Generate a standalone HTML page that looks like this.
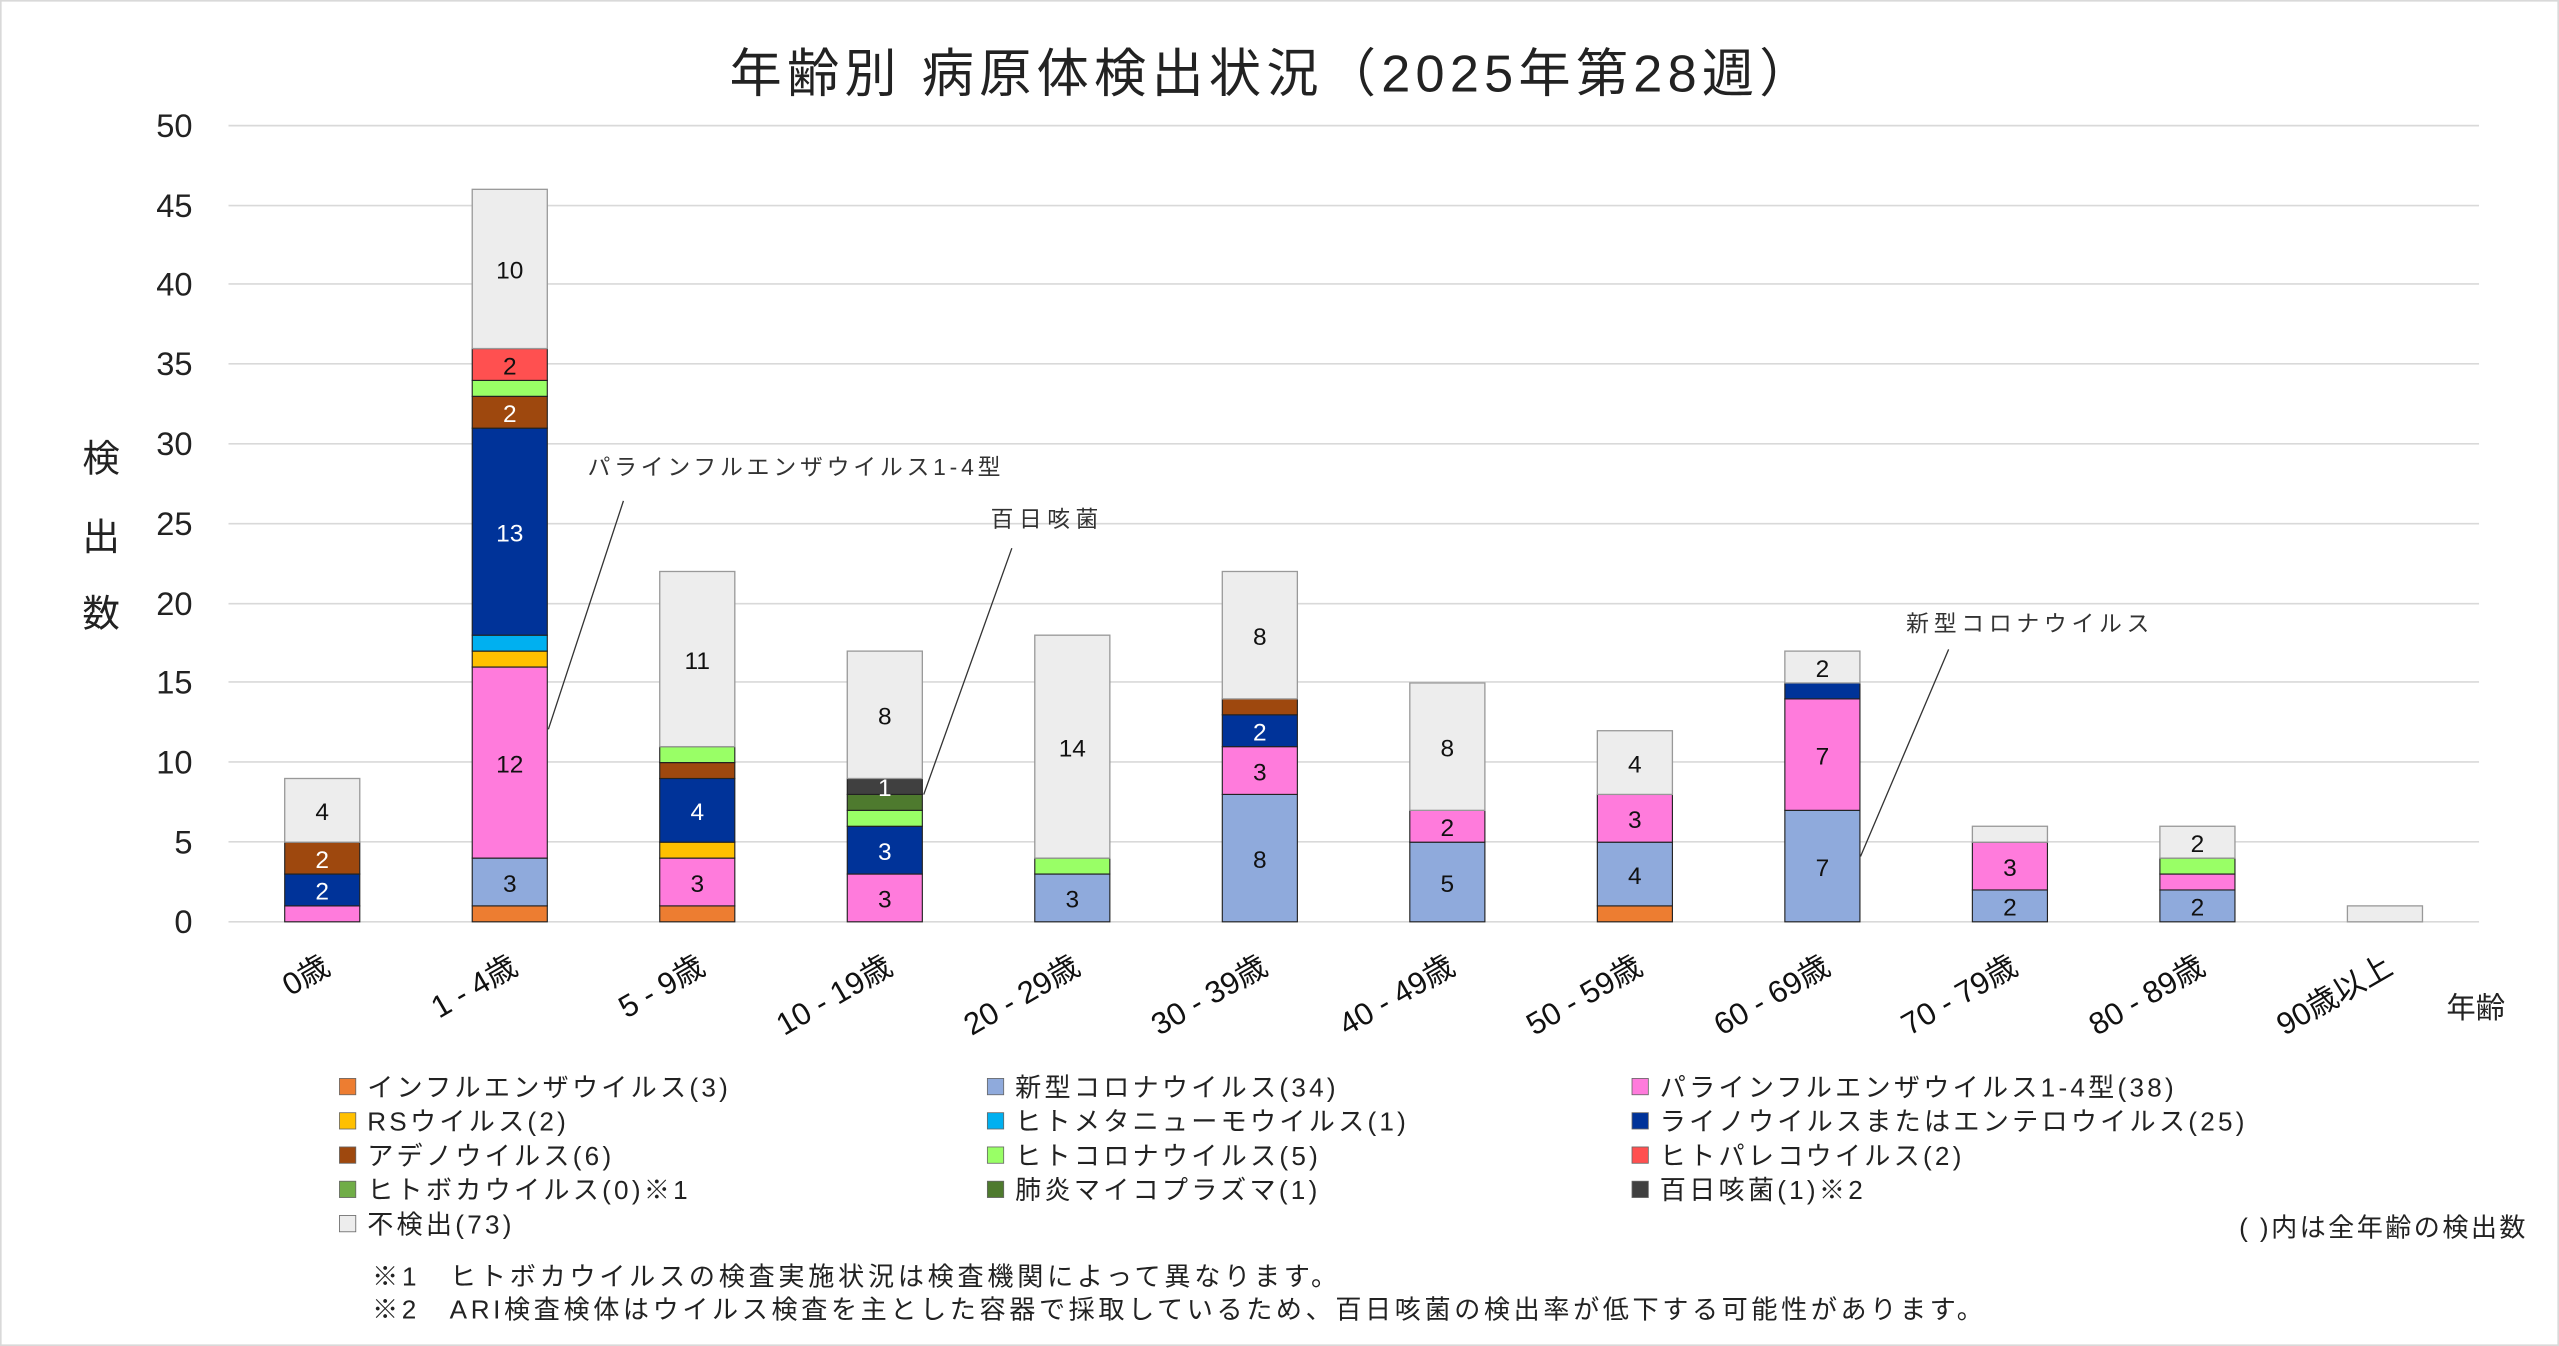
<!DOCTYPE html>
<html><head><meta charset="utf-8"><style>
html,body{margin:0;padding:0;background:#fff}
svg{display:block}
text{font-family:"Liberation Sans","Noto Sans CJK JP",sans-serif}
</style></head><body>
<svg width="2559" height="1346" viewBox="0 0 1568 825" preserveAspectRatio="none" xmlns="http://www.w3.org/2000/svg">
<rect x="0.5" y="0.5" width="1567" height="824" fill="#fff" stroke="#d9d9d9"/>
<text x="447" y="56" font-size="32" fill="#222" textLength="663" lengthAdjust="spacing">年齢別 病原体検出状況（2025年第28週）</text>
<g stroke="#d9d9d9" stroke-width="1">
<line x1="140" x2="1519" y1="77" y2="77"/><line x1="140" x2="1519" y1="126" y2="126"/><line x1="140" x2="1519" y1="174" y2="174"/><line x1="140" x2="1519" y1="223" y2="223"/><line x1="140" x2="1519" y1="272" y2="272"/><line x1="140" x2="1519" y1="321" y2="321"/><line x1="140" x2="1519" y1="370" y2="370"/><line x1="140" x2="1519" y1="418" y2="418"/><line x1="140" x2="1519" y1="467" y2="467"/><line x1="140" x2="1519" y1="516" y2="516"/><line x1="140" x2="1519" y1="565" y2="565"/>
</g>
<g font-size="20" text-anchor="end" fill="#222">
<text x="118" y="84">50</text><text x="118" y="133">45</text><text x="118" y="181">40</text><text x="118" y="230">35</text><text x="118" y="279">30</text><text x="118" y="328">25</text><text x="118" y="377">20</text><text x="118" y="425">15</text><text x="118" y="474">10</text><text x="118" y="523">5</text><text x="118" y="572">0</text>
</g>
<g font-size="23" text-anchor="middle" fill="#222"><text x="62" y="289">検</text><text x="62" y="337">出</text><text x="62" y="384">数</text></g>
<g id="bars"></g>
<g font-size="19" fill="#111" text-anchor="end" id="xl"></g>
<text x="1517" y="624" font-size="18" text-anchor="middle" fill="#222">年齢</text>
<g font-size="14" fill="#333">
<text x="360" y="291" textLength="253" lengthAdjust="spacing">パラインフルエンザウイルス1-4型</text>
<text x="607" y="323" textLength="66" lengthAdjust="spacing">百日咳菌</text>
<text x="1168" y="387" textLength="149" lengthAdjust="spacing">新型コロナウイルス</text>
</g>
<g stroke="#333" stroke-width="0.8">
<line x1="382" y1="307" x2="336" y2="447"/>
<line x1="620" y1="336" x2="566" y2="487"/>
<line x1="1194" y1="398" x2="1140" y2="525"/>
</g>
<g font-size="16" fill="#222" id="leg" letter-spacing="2"></g>
<text x="1549" y="758" font-size="16" text-anchor="end" fill="#222" letter-spacing="1.5">( )内は全年齢の検出数</text>
<text x="228" y="788" font-size="16" fill="#222" letter-spacing="2.3">※1　ヒトボカウイルスの検査実施状況は検査機関によって異なります。</text>
<text x="228" y="808" font-size="16" fill="#222" textLength="987" lengthAdjust="spacing">※2　ARI検査検体はウイルス検査を主とした容器で採取しているため、百日咳菌の検出率が低下する可能性があります。</text>
</svg>
<script>
var C=["#ED7D31","#8FAADC","#FF7BDC","#FFC000","#00B0F0","#003399","#9E480E","#99FF66","#FF5050","#70AD47","#4E7A2E","#404040","#EDEDED"];
var W=["#111","#111","#111","#111","#111","#fff","#fff","#111","#111","#111","#fff","#fff","#111"];
var D=[[0,0,1,0,0,2,2,0,0,0,0,0,4],[1,3,12,1,1,13,2,1,2,0,0,0,10],[1,0,3,1,0,4,1,1,0,0,0,0,11],[0,0,3,0,0,3,0,1,0,0,1,1,8],[0,3,0,0,0,0,0,1,0,0,0,0,14],[0,8,3,0,0,2,1,0,0,0,0,0,8],[0,5,2,0,0,0,0,0,0,0,0,0,8],[1,4,3,0,0,0,0,0,0,0,0,0,4],[0,7,7,0,0,1,0,0,0,0,0,0,2],[0,2,3,0,0,0,0,0,0,0,0,0,1],[0,2,1,0,0,0,0,1,0,0,0,0,2],[0,0,0,0,0,0,0,0,0,0,0,0,1]];
var L=["0歳","1 - 4歳","5 - 9歳","10 - 19歳","20 - 29歳","30 - 39歳","40 - 49歳","50 - 59歳","60 - 69歳","70 - 79歳","80 - 89歳","90歳以上"];
var ns="http://www.w3.org/2000/svg",g=document.getElementById("bars"),xl=document.getElementById("xl");
function el(t,a,p,s){var e=document.createElementNS(ns,t);for(var k in a)e.setAttribute(k,a[k]);if(s!=null)e.textContent=s;p.appendChild(e);return e;}
var u=9.76;
D.forEach(function(d,i){var cx=140+114.9*(i+0.5),y=565;
d.forEach(function(v,j){if(!v)return;var h=v*u;y-=h;
el("rect",{x:cx-23,y:y,width:46,height:h,fill:C[j],stroke:j==12?"#999":"#222","stroke-width":j==12?0.8:0.7},g);
if(v>=2||(j==11))el("text",{x:cx,y:y+h/2+6,"font-size":15,"text-anchor":"middle",fill:W[j]},g,String(v));});
el("text",{x:0,y:0,transform:"translate("+(cx+6)+",596) rotate(-30)"},xl,L[i]);});
var T=[["インフルエンザウイルス(3)","新型コロナウイルス(34)","パラインフルエンザウイルス1-4型(38)"],["RSウイルス(2)","ヒトメタニューモウイルス(1)","ライノウイルスまたはエンテロウイルス(25)"],["アデノウイルス(6)","ヒトコロナウイルス(5)","ヒトパレコウイルス(2)"],["ヒトボカウイルス(0)※1","肺炎マイコプラズマ(1)","百日咳菌(1)※2"],["不検出(73)"]];
var LC=[[0,1,2],[3,4,5],[6,7,8],[9,10,11],[12]],X=[208,605,1000],lg=document.getElementById("leg");
T.forEach(function(r,ri){r.forEach(function(t,ci){var y=666+ri*21;
el("rect",{x:X[ci],y:y-5,width:10,height:10,fill:C[LC[ri][ci]],stroke:"#666","stroke-width":0.5},lg);
el("text",{x:X[ci]+17,y:y+6},lg,t);});});
</script>
</body></html>
